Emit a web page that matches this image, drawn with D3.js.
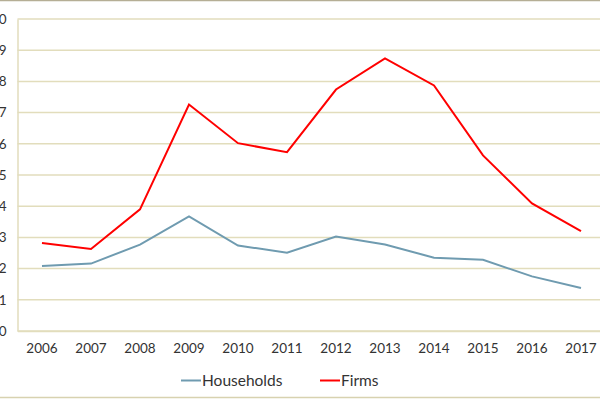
<!DOCTYPE html>
<html>
<head>
<meta charset="utf-8">
<script src="https://cdn.jsdelivr.net/npm/d3@7"></script>
<style>
  body { margin: 0; background: #fff; }
  text { font-family: Lato, "Open Sans", sans-serif; fill: #333; }
</style>
</head>
<body>
<div class="chart"></div>
<script>
// data
let years = ['2006','2007','2008','2009','2010','2011','2012','2013','2014','2015','2016','2017']
let households = [2.08, 2.16, 2.77, 3.67, 2.74, 2.51, 3.03, 2.77, 2.35, 2.28, 1.75, 1.38]
let firms = [2.82, 2.63, 3.90, 7.26, 6.02, 5.73, 7.74, 8.74, 7.87, 5.63, 4.09, 3.20]
let yTicks = [0,1,2,3,4,5,6,7,8,9,10]

let w=600, h=400
let padL=17.5, padR=605.5, padT=19, padB=331

let svg=d3.select('.chart').append('svg').attr('width',w).attr('height',h)

// outer frame
svg.append('line').attr('x1',0).attr('x2',w).attr('y1',0.5).attr('y2',0.5)
  .attr('stroke','#b5ae95').attr('stroke-width',1.5)
svg.append('line').attr('x1',0).attr('x2',w).attr('y1',397.5).attr('y2',397.5)
  .attr('stroke','#d8d2b0').attr('stroke-width',1.5)

let xScale=d3.scaleBand().domain(years).range([padL,padR])
let yScale=d3.scaleLinear().domain([0,10]).range([padB,padT])

// gridlines
svg.append('g').attr('class','grid').selectAll('line').data(yTicks).enter().append('line')
  .attr('x1',padL).attr('x2',padR)
  .attr('y1',d=>yScale(d)).attr('y2',d=>yScale(d))
  .attr('stroke','#e2ddbc').attr('stroke-width',1.5)

// y axis
let yAxis=d3.axisLeft(yScale).tickValues(yTicks).tickSize(0).tickPadding(11)
let gy=svg.append('g').attr('transform','translate('+padL+',0)').call(yAxis)
gy.select('.domain').attr('stroke','#e2ddbc').attr('stroke-width',1.5)
gy.selectAll('text').style('font-size','13.5px').style('fill','#333')

// x axis
let xAxis=d3.axisBottom(xScale).tickSize(0).tickPadding(12)
let gx=svg.append('g').attr('transform','translate(0,'+padB+')').call(xAxis)
gx.select('.domain').attr('stroke','#e2ddbc').attr('stroke-width',1.5)
gx.selectAll('text').style('font-size','13.5px').style('fill','#333')

let line=d3.line().x((d,i)=>xScale(years[i])+xScale.bandwidth()/2).y(d=>yScale(d))

svg.append('path').datum(households).attr('d',line)
  .attr('fill','none').attr('stroke','#6f9bb0').attr('stroke-width',2)
svg.append('path').datum(firms).attr('d',line)
  .attr('fill','none').attr('stroke','#ff0000').attr('stroke-width',2)

// legend
let legend=[{name:'Households',color:'#6f9bb0',x:181},{name:'Firms',color:'#ff0000',x:320}]
let lg=svg.selectAll('.legend').data(legend).enter().append('g').attr('class','legend')
  .attr('transform',d=>'translate('+d.x+',380.5)')
lg.append('line').attr('x1',0).attr('x2',20).attr('y1',0).attr('y2',0)
  .attr('stroke',d=>d.color).attr('stroke-width',2)
lg.append('text').attr('x',21).attr('y',5.5).style('font-size','15.5px').text(d=>d.name)
</script>
</body>
</html>
